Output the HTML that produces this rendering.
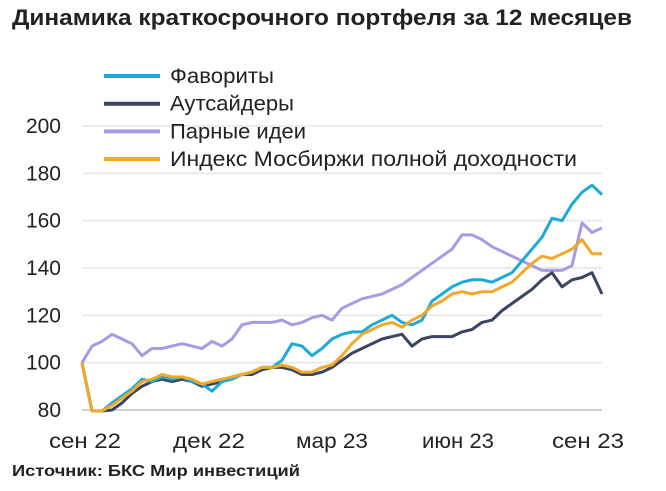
<!DOCTYPE html>
<html><head><meta charset="utf-8"><style>
body{margin:0;width:666px;height:491px;background:#fff;overflow:hidden;font-family:"Liberation Sans",sans-serif}
svg{position:absolute;left:0;top:0}
</style></head><body>
<svg width="666" height="491">
<text x="12" y="25" font-size="22" font-weight="bold" fill="#222" textLength="620" lengthAdjust="spacingAndGlyphs">Динамика краткосрочного портфеля за 12 месяцев</text>
<g id="grid"></g><g id="lines"></g><g id="legend"></g>
<text x="12" y="476" font-size="16" font-weight="bold" fill="#222" textLength="288" lengthAdjust="spacingAndGlyphs">Источник: БКС Мир инвестиций</text>
</svg>
<script>
const xLabels=["сен 22","дек 22","мар 23","июн 23","сен 23"];
const xLabelIdx=[0.3,12.7,25,37.6,50.6];
const yTicks=[80,100,120,140,160,180,200];
const names=["Фавориты","Аутсайдеры","Парные идеи","Индекс Мосбиржи полной доходности"];
const legendW=[104,124,136,407];
const fav=[100,79,78,83,86,89,93,92,94,93,94,92,91,88,92,93,95,96,98,98,101,108,107,103,106,110,112,113,113,116,118,120,117,116,118,126,129,132,134,135,135,134,136,138,143,148,153,161,160,167,172,175,171];
const outs=[100,79,78,80,83,87,90,92,93,92,93,92,90,91,92,94,95,95,97,98,98,97,95,95,96,98,101,104,106,108,110,111,112,107,110,111,111,111,113,114,117,118,122,125,128,131,135,138,132,135,136,138,129];
const pairs=[100,107,109,112,110,108,103,106,106,107,108,107,106,109,107,110,116,117,117,117,118,116,117,119,120,118,123,125,127,128,129,131,133,136,139,142,145,148,154,154,152,149,147,145,143,141,139,139,139,141,159,155,157];
const idx=[100,79,78,82,85,88,92,93,95,94,94,93,91,92,93,94,95,96,98,98,99,98,96,96,98,99,103,108,112,114,116,117,115,118,120,124,126,129,130,129,130,130,132,134,138,142,145,144,146,148,152,146,146];
const colors=["#1fa9d8","#3b4460","#a99ae6","#f0a92b"];
const NS="http://www.w3.org/2000/svg";
const X0=82,X1=602,Y0=410,Y1=126;
const x=i=>X0+i*(X1-X0)/52;
const y=v=>Y0-(v-80)*(Y0-Y1)/120;
const grid=document.getElementById('grid');
yTicks.forEach(t=>{
 const l=document.createElementNS(NS,'line');
 
 
 l.setAttribute('x1',X0);l.setAttribute('x2',X1);l.setAttribute('y1',y(t));l.setAttribute('y2',y(t));
 l.setAttribute('stroke',t===80?'#d0d0d0':'#e6e6e6');l.setAttribute('stroke-width',t===80?2:1.5);
 grid.appendChild(l);
 const tx=document.createElementNS(NS,'text');
 
 
 tx.setAttribute('x',61);tx.setAttribute('y',y(t)+7);tx.setAttribute('text-anchor','end');
 tx.setAttribute('font-size','21');tx.setAttribute('fill','#222');tx.textContent=t;
 grid.appendChild(tx);
});
xLabels.forEach((s,k)=>{
 const tx=document.createElementNS(NS,'text');
 
 
 tx.setAttribute('x',x(xLabelIdx[k]));tx.setAttribute('y',448);tx.setAttribute('text-anchor','middle');
 tx.setAttribute('font-size','21');tx.setAttribute('fill','#222');
 tx.setAttribute('textLength',s.length*12);tx.setAttribute('lengthAdjust','spacingAndGlyphs');
 tx.textContent=s;
 grid.appendChild(tx);
});
const lines=document.getElementById('lines');
const series=[fav,outs,pairs,idx];
const order=[2,1,0,3];
order.forEach(k=>{
 const p=document.createElementNS(NS,'path');
 
 
 p.setAttribute('d',series[k].map((v,i)=>(i?'L':'M')+x(i).toFixed(1)+' '+Math.min(y(v),411).toFixed(1)).join(''));
 p.setAttribute('fill','none');p.setAttribute('stroke',colors[k]);p.setAttribute('stroke-width',3);p.setAttribute('stroke-linejoin','round');
 lines.appendChild(p);
});
const lg=document.getElementById('legend');
names.forEach((n,k)=>{
 const yy=76+k*27.7;
 const l=document.createElementNS(NS,'line');
 
 
 l.setAttribute('x1',104);l.setAttribute('x2',160);l.setAttribute('y1',yy);l.setAttribute('y2',yy);
 l.setAttribute('stroke',colors[k]);l.setAttribute('stroke-width',4);
 lg.appendChild(l);
 const tx=document.createElementNS(NS,'text');
 
 
 tx.setAttribute('x',170);tx.setAttribute('y',yy+7);tx.setAttribute('font-size','21');tx.setAttribute('fill','#222');
 tx.setAttribute('textLength',legendW[k]);tx.setAttribute('lengthAdjust','spacingAndGlyphs');
 tx.textContent=n;lg.appendChild(tx);
});
</script>
</body></html>
